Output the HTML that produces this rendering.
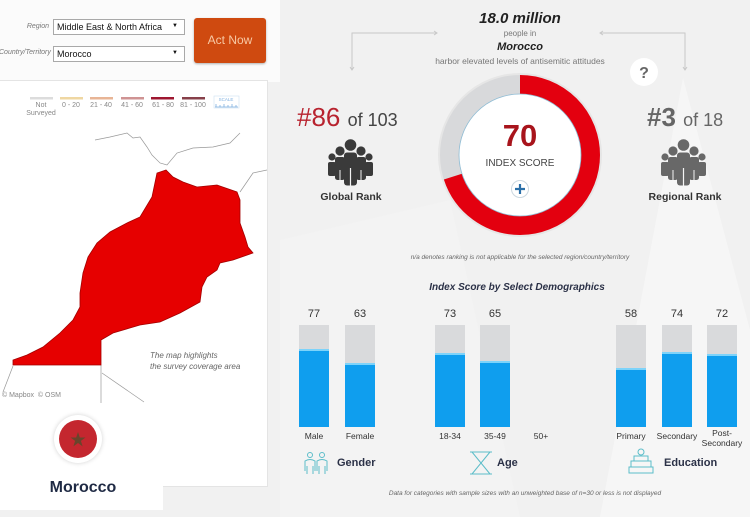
<!DOCTYPE html>
<html><head><meta charset="utf-8">
<style>
*{margin:0;padding:0;box-sizing:border-box}
body{width:750px;height:517px;overflow:hidden;background:#f1f1f1;font-family:"Liberation Sans",Arial,sans-serif;position:relative;color:#333}
.a{position:absolute;white-space:nowrap}
.sel{position:absolute;background:#fff;border:1px solid #a9a9a9;font-size:9px;color:#111;padding:2px 0 0 3px;height:16px;width:132px;left:53px}
.sel .ar{position:absolute;right:6px;top:3px;font-size:6px}
.lab{font-style:italic;font-size:7px;color:#777;text-align:right;width:49px;left:0}
.leg{font-size:7px;color:#888;text-align:center;width:40px}
.bar{position:absolute;width:30px;height:102px;top:325px;background:#d9dadc}
.bar i{position:absolute;left:0;right:0;bottom:0;background:#0f9eee;border-top:2px solid #7dd3fa}
.val{font-size:11px;color:#333;text-align:center;width:40px;top:308px}
.bl{font-size:8.5px;color:#333;text-align:center;width:60px;top:431px;line-height:10px}
.cat{font-size:11px;font-weight:bold;color:#2b3147;top:457px}
</style></head><body>
<svg class="a" style="left:0;top:0" width="750" height="517">
<rect x="0" y="0" width="280" height="82" fill="#fbfbfb"/>
<polygon points="683,78 600,517 750,517 750,330" fill="#ffffff" opacity="0.4"/>
<polygon points="280,240 450,200 520,517 280,517" fill="#f5f5f5" opacity="0.5"/>
</svg>

<div class="a lab" style="top:23px">Region</div>
<div class="sel" style="top:19px">Middle East &amp; North Africa<span class="ar">▼</span></div>
<div class="a" style="left:-1px;top:49px;font-style:italic;font-size:7px;color:#777">Country/Territory</div>
<div class="sel" style="top:46px">Morocco<span class="ar">▼</span></div>
<div class="a" style="left:194px;top:18px;width:72px;height:45px;background:#cf4a10;border-radius:3px;box-shadow:0 1px 2px rgba(0,0,0,.3);color:#f7c9a5;font-size:12px;text-align:center;line-height:45px">Act Now</div>

<div class="a" style="left:-1px;top:80px;width:269px;height:407px;background:#fff;border:1px solid #e4e4e4"></div>
<div class="a" style="left:0;top:486px;width:163px;height:24px;background:#fff"></div>

<svg class="a" style="left:0;top:0" width="270" height="120">
<rect x="30" y="97" width="23" height="2.5" fill="#dcdcdc"/>
<rect x="60" y="97" width="23" height="2.5" fill="#efd7a2"/>
<rect x="90" y="97" width="23" height="2.5" fill="#e8b596"/>
<rect x="121" y="97" width="23" height="2.5" fill="#cf9393"/>
<rect x="151" y="97" width="23" height="2.5" fill="#9e1730"/>
<rect x="182" y="97" width="23" height="2.5" fill="#87404a"/>
<text x="226" y="101" font-size="4.5" fill="#7fb0e0" text-anchor="middle" font-family="Liberation Sans">SCALE</text>
<rect x="214" y="96" width="25" height="12" fill="none" stroke="#cfe0f2" stroke-width="0.6"/>
<path d="M215 107 H238 M216 107 V104 M220 107 V105 M224 107 V104 M228 107 V105 M232 107 V104 M236 107 V105" stroke="#7fb0e0" stroke-width="0.8" fill="none"/>
</svg>
<div class="a leg" style="left:21px;top:102px;line-height:8px">Not<br>Surveyed</div>
<div class="a leg" style="left:51px;top:102px">0 - 20</div>
<div class="a leg" style="left:81px;top:102px">21 - 40</div>
<div class="a leg" style="left:112px;top:102px">41 - 60</div>
<div class="a leg" style="left:143px;top:102px">61 - 80</div>
<div class="a leg" style="left:173px;top:102px">81 - 100</div>

<svg class="a" style="left:0;top:0" width="270" height="410">
<polyline points="95,140 110,137 127,133 133,138 140,137 147,147 152,155 160,163 167,165 177,153 193,148 213,147 230,143 240,133" fill="none" stroke="#999" stroke-width="0.7"/>
<polyline points="240,192 253,173 267,170" fill="none" stroke="#999" stroke-width="0.7"/>
<polyline points="13,366 3,392" fill="none" stroke="#999" stroke-width="0.7"/>
<polyline points="101,365 101,403" fill="none" stroke="#999" stroke-width="0.7"/>
<polyline points="102,373 144,402" fill="none" stroke="#999" stroke-width="0.7"/>
<polygon points="166,170 157,173 152,197 140,217 127,223 110,232 97,243 88,257 83,273 80,293 80,307 73,320 60,333 43,347 27,355 13,360 13,365 101,365 101,340 113,333 140,325 160,322 180,313 200,302 202,287 207,277 217,270 220,263 233,260 253,253 248,247 245,237 240,223 240,200 237,192 217,185 197,187 183,182 173,177" fill="#e60000" stroke="#a30000" stroke-width="0.8"/>
</svg>
<div class="a" style="left:150px;top:350px;font-size:8px;font-style:italic;color:#666;line-height:11px">The map highlights<br>the survey coverage area</div>
<div class="a" style="left:2px;top:392px;font-size:7px;color:#888">© Mapbox &nbsp;© OSM</div>

<div class="a" style="left:54px;top:415px;width:48px;height:48px;border-radius:50%;background:#fff;box-shadow:0 0 5px rgba(0,0,0,.18)"></div>
<svg class="a" style="left:0;top:0" width="170" height="470">
<circle cx="78" cy="439" r="19" fill="#c4272f"/>
<polygon points="78,432 79.8,437.5 85.5,437.5 80.9,440.9 82.6,446.4 78,443 73.4,446.4 75.1,440.9 70.5,437.5 76.2,437.5" fill="#5a4a2a" opacity="0.85"/>
</svg>
<div class="a" style="left:33px;top:479px;width:100px;text-align:center;font-size:16px;font-weight:bold;color:#1f2a44">Morocco</div>

<div class="a" style="left:420px;top:10px;width:200px;text-align:center;font-size:15px;font-weight:bold;font-style:italic;color:#222">18.0 million</div>
<div class="a" style="left:420px;top:29px;width:200px;text-align:center;font-size:8px;color:#777">people in</div>
<div class="a" style="left:420px;top:41px;width:200px;text-align:center;font-size:11px;font-weight:bold;font-style:italic;color:#222">Morocco</div>
<div class="a" style="left:400px;top:56px;width:240px;text-align:center;font-size:8.5px;color:#777">harbor elevated levels of antisemitic attitudes</div>

<svg class="a" style="left:0;top:0" width="750" height="517">
<path d="M352 70 V33 H437" fill="none" stroke="#c8c8c8" stroke-width="1"/>
<path d="M434 31 L437 33 L434 35" fill="none" stroke="#c8c8c8"/>
<path d="M685 70 V33 H600" fill="none" stroke="#c8c8c8" stroke-width="1"/>
<path d="M603 31 L600 33 L603 35" fill="none" stroke="#c8c8c8"/>
<path d="M350 67 L352 70 L354 67" fill="none" stroke="#c8c8c8"/>
<path d="M683 67 L685 70 L687 67" fill="none" stroke="#c8c8c8"/>
<circle cx="644" cy="72" r="14" fill="#fff"/>
<text x="644" y="78" font-size="16" font-weight="bold" fill="#666" text-anchor="middle" font-family="Liberation Sans">?</text>
<circle cx="520" cy="155" r="81" fill="#fff"/>
<circle cx="520" cy="155" r="80.5" fill="none" stroke="#e6e6e6" stroke-width="3"/>
<circle cx="520" cy="155" r="70.5" fill="none" stroke="#d8d9db" stroke-width="19"/>
<circle cx="520" cy="155" r="70.5" fill="none" stroke="#e3000f" stroke-width="19" stroke-dasharray="310.1 500" transform="rotate(-90 520 155)"/>
<circle cx="520" cy="155" r="61" fill="#fff" stroke="#8fbcd4" stroke-width="0.8"/>
<text x="520" y="146" font-size="31" font-weight="bold" fill="#a8141c" text-anchor="middle" font-family="Liberation Sans">70</text>
<text x="520" y="166" font-size="10" fill="#444" text-anchor="middle" font-family="Liberation Sans">INDEX SCORE</text>
<circle cx="520" cy="189" r="8.5" fill="#fff" stroke="#ccd8e0" stroke-width="1"/>
<path d="M520 184 V194 M515 189 H525" stroke="#2a6fa8" stroke-width="2.2"/>
<g fill="#3a3a3a">
<circle cx="332" cy="157" r="3.6"/><rect x="328" y="162" width="8" height="14" rx="2"/>
<circle cx="369" cy="157" r="3.6"/><rect x="365" y="162" width="8" height="14" rx="2"/>
<circle cx="340" cy="151" r="4.6"/><rect x="335" y="157" width="10" height="23" rx="2.5"/>
<circle cx="361" cy="151" r="4.6"/><rect x="356" y="157" width="10" height="23" rx="2.5"/>
</g>
<path d="M340 170 V180 M361 170 V180" stroke="#f3f3f3" stroke-width="1"/>
<g fill="#3a3a3a">
<circle cx="350.5" cy="145" r="5.8"/><rect x="344" y="152.5" width="13" height="33" rx="3"/>
</g>
<path d="M350.5 168 V186" stroke="#f3f3f3" stroke-width="1.2"/>
<g fill="#686868">
<circle cx="665" cy="157" r="3.6"/><rect x="661" y="162" width="8" height="14" rx="2"/>
<circle cx="702" cy="157" r="3.6"/><rect x="698" y="162" width="8" height="14" rx="2"/>
<circle cx="673" cy="151" r="4.6"/><rect x="668" y="157" width="10" height="23" rx="2.5"/>
<circle cx="694" cy="151" r="4.6"/><rect x="689" y="157" width="10" height="23" rx="2.5"/>
</g>
<path d="M673 170 V180 M694 170 V180" stroke="#f5f5f5" stroke-width="1"/>
<g fill="#686868">
<circle cx="683.5" cy="145" r="5.8"/><rect x="677" y="152.5" width="13" height="33" rx="3"/>
</g>
<path d="M683.5 168 V186" stroke="#f5f5f5" stroke-width="1.2"/>
</svg>

<div class="a" style="left:297px;top:102px;font-size:26px;color:#b8232f">#86 <span style="font-size:18px;color:#444">of 103</span></div>
<div class="a" style="left:647px;top:102px;font-size:26px;font-weight:bold;color:#666">#3 <span style="font-size:18px;font-weight:normal;color:#666">of 18</span></div>
<div class="a" style="left:311px;top:191px;width:80px;text-align:center;font-size:10.5px;font-weight:bold;color:#333">Global Rank</div>
<div class="a" style="left:645px;top:191px;width:80px;text-align:center;font-size:10.5px;font-weight:bold;color:#333">Regional Rank</div>
<div class="a" style="left:380px;top:254px;width:280px;text-align:center;font-size:6.5px;font-style:italic;color:#666">n/a denotes ranking is not applicable for the selected region/country/territory</div>

<div class="a" style="left:417px;top:282px;width:200px;text-align:center;font-size:10px;font-weight:bold;font-style:italic;color:#2b3147">Index Score by Select Demographics</div>

<div class="bar" style="left:299px"><i style="height:78.5px"></i></div>
<div class="bar" style="left:345px"><i style="height:64px"></i></div>
<div class="bar" style="left:435px"><i style="height:74.5px"></i></div>
<div class="bar" style="left:480px"><i style="height:66.3px"></i></div>
<div class="bar" style="left:616px"><i style="height:59px"></i></div>
<div class="bar" style="left:662px"><i style="height:75.5px"></i></div>
<div class="bar" style="left:707px"><i style="height:73.4px"></i></div>

<div class="a val" style="left:294px">77</div>
<div class="a val" style="left:340px">63</div>
<div class="a val" style="left:430px">73</div>
<div class="a val" style="left:475px">65</div>
<div class="a val" style="left:611px">58</div>
<div class="a val" style="left:657px">74</div>
<div class="a val" style="left:702px">72</div>

<div class="a bl" style="left:284px">Male</div>
<div class="a bl" style="left:330px">Female</div>
<div class="a bl" style="left:420px">18-34</div>
<div class="a bl" style="left:465px">35-49</div>
<div class="a bl" style="left:511px">50+</div>
<div class="a bl" style="left:601px">Primary</div>
<div class="a bl" style="left:647px">Secondary</div>
<div class="a bl" style="left:692px;top:428px">Post-<br>Secondary</div>

<svg class="a" style="left:0;top:0" width="750" height="517">
<g fill="none" stroke="#5cbdc9" stroke-width="1">
<circle cx="310" cy="455" r="2.5"/><path d="M305 471 V461 Q310 458 315 461 V471 M307 466 V474 M313 466 V474"/>
<circle cx="322" cy="455" r="2.5"/><path d="M317 471 V461 Q322 458 327 461 V471 M319 466 V474 M325 466 V474"/>
<path d="M470 452 H492 M470 474 H492 M472 452 L481 463 L472 474 M490 452 L481 463 L490 474"/>
<rect x="629" y="467" width="24" height="6"/><rect x="631" y="461" width="20" height="6"/><rect x="634" y="456" width="14" height="5"/>
<circle cx="641" cy="452" r="3"/>
</g>
</svg>
<div class="a cat" style="left:337px">Gender</div>
<div class="a cat" style="left:497px">Age</div>
<div class="a cat" style="left:664px">Education</div>

<div class="a" style="left:360px;top:490px;width:330px;text-align:center;font-size:6.5px;font-style:italic;color:#666">Data for categories with sample sizes with an unweighted base of n=30 or less is not displayed</div>
</body></html>
